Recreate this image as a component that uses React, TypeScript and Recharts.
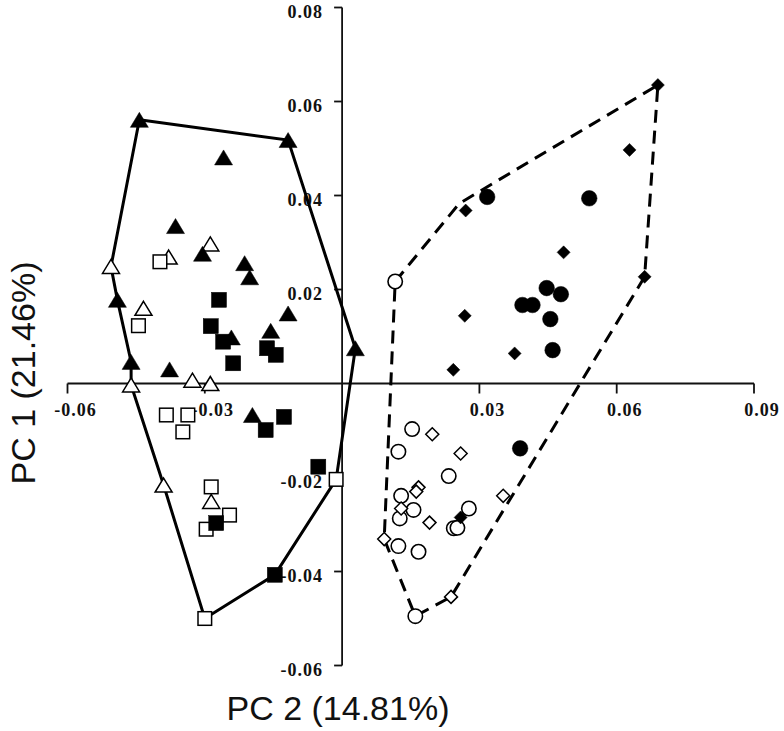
import React from 'react';
import { ScatterChart, Scatter, XAxis, YAxis, ReferenceLine, ReferenceDot } from 'recharts';

// ---- tick values / labels ----
const xTicks = [-0.06, -0.03, 0.03, 0.06, 0.09];
const xTickLabels = ['-0.06', '-0.03', '0.03', '0.06', '0.09'];
const yTicks = [0.08, 0.06, 0.04, 0.02, -0.02, -0.04, -0.06];
const yTickLabels = ['0.08', '0.06', '0.04', '0.02', '-0.02', '-0.04', '-0.06'];
const xTitle = 'PC 2 (14.81%)';
const yTitle = 'PC 1 (21.46%)';

// ---- series ----
const filledTriangles = [
  { x: -0.0443, y: 0.0561 }, { x: -0.0118, y: 0.0518 }, { x: -0.0259, y: 0.0481 },
  { x: -0.0364, y: 0.0335 }, { x: -0.0305, y: 0.0276 }, { x: -0.0213, y: 0.0256 },
  { x: -0.0202, y: 0.0226 }, { x: -0.0118, y: 0.0149 }, { x: -0.0156, y: 0.0112 },
  { x: -0.0242, y: 0.0098 }, { x: -0.0491, y: 0.0178 }, { x: -0.0461, y: 0.0046 },
  { x: -0.0377, y: 0.003 }, { x: 0.0029, y: 0.0075 }, { x: -0.0196, y: -0.0067 },
];
const openTriangles = [
  { x: -0.0505, y: 0.0249 }, { x: -0.0434, y: 0.016 }, { x: -0.0379, y: 0.0269 },
  { x: -0.0288, y: 0.0297 }, { x: -0.0327, y: 0.0007 }, { x: -0.0288, y: 0.0 },
  { x: -0.0461, y: -0.0003 }, { x: -0.039, y: -0.0216 }, { x: -0.0286, y: -0.0251 },
];
const openSquares = [
  { x: -0.0398, y: 0.0259 }, { x: -0.0445, y: 0.0123 }, { x: -0.0384, y: -0.0067 },
  { x: -0.0337, y: -0.0067 }, { x: -0.0348, y: -0.0103 }, { x: -0.0286, y: -0.022 },
  { x: -0.0246, y: -0.028 }, { x: -0.0297, y: -0.031 }, { x: -0.03, y: -0.05 },
  { x: -0.0013, y: -0.0204 },
];
const filledSquares = [
  { x: -0.0269, y: 0.0178 }, { x: -0.0287, y: 0.0122 }, { x: -0.026, y: 0.0089 },
  { x: -0.0238, y: 0.0043 }, { x: -0.0164, y: 0.0075 }, { x: -0.0145, y: 0.0061 },
  { x: -0.0167, y: -0.0099 }, { x: -0.0127, y: -0.0071 }, { x: -0.0052, y: -0.0177 },
  { x: -0.0275, y: -0.0297 }, { x: -0.0147, y: -0.0407 },
];
const filledDiamonds = [
  { x: 0.069, y: 0.0635 }, { x: 0.0628, y: 0.0497 }, { x: 0.027, y: 0.0368 },
  { x: 0.0484, y: 0.0279 }, { x: 0.0661, y: 0.0227 }, { x: 0.0268, y: 0.0144 },
  { x: 0.0377, y: 0.0064 }, { x: 0.0243, y: 0.0029 }, { x: 0.0259, y: -0.0285 },
];
const filledCircles = [
  { x: 0.0317, y: 0.0397 }, { x: 0.054, y: 0.0394 }, { x: 0.0447, y: 0.0203 },
  { x: 0.0478, y: 0.019 }, { x: 0.0394, y: 0.0167 }, { x: 0.0416, y: 0.0167 },
  { x: 0.0455, y: 0.0137 }, { x: 0.046, y: 0.0071 }, { x: 0.0389, y: -0.0138 },
];
const openCircles = [
  { x: 0.0116, y: 0.0217 }, { x: 0.0153, y: -0.0097 }, { x: 0.0123, y: -0.0145 },
  { x: 0.0233, y: -0.0197 }, { x: 0.0129, y: -0.0239 }, { x: 0.0156, y: -0.0269 },
  { x: 0.0126, y: -0.0287 }, { x: 0.0277, y: -0.0266 }, { x: 0.0244, y: -0.0308 },
  { x: 0.0252, y: -0.0307 }, { x: 0.0123, y: -0.0346 }, { x: 0.0167, y: -0.0358 },
  { x: 0.016, y: -0.0495 },
];
const openDiamonds = [
  { x: 0.0197, y: -0.0108 }, { x: 0.0259, y: -0.0149 }, { x: 0.0167, y: -0.0221 },
  { x: 0.0162, y: -0.023 }, { x: 0.0129, y: -0.0266 }, { x: 0.0191, y: -0.0296 },
  { x: 0.0352, y: -0.0239 }, { x: 0.0092, y: -0.0331 }, { x: 0.0238, y: -0.0454 },
];

// ---- convex hulls (closed) ----
const hullLeft = [
  { x: -0.0443, y: 0.0561 }, { x: -0.0118, y: 0.0518 }, { x: 0.0029, y: 0.0075 },
  { x: -0.0013, y: -0.0204 }, { x: -0.0147, y: -0.0407 }, { x: -0.03, y: -0.05 },
  { x: -0.039, y: -0.0216 }, { x: -0.0461, y: -0.0003 }, { x: -0.0461, y: 0.0046 },
  { x: -0.0491, y: 0.0178 }, { x: -0.0505, y: 0.0249 }, { x: -0.0443, y: 0.0561 },
];
const hullRight = [
  { x: 0.0116, y: 0.0217 }, { x: 0.0256, y: 0.0383 }, { x: 0.069, y: 0.0635 },
  { x: 0.0661, y: 0.0227 }, { x: 0.0238, y: -0.0454 }, { x: 0.016, y: -0.0495 },
  { x: 0.0092, y: -0.0331 }, { x: 0.0116, y: 0.0217 },
];

const INK = '#000';
const AXIS = '#111';
const tickFont = '"Liberation Serif", "Times New Roman", serif';
const titleFont = '"Liberation Sans", Arial, sans-serif';

const triangle = (filled: boolean) => (p: any) => {
  const { cx, cy } = p;
  const w = filled ? 9 : 8.5;
  const h = filled ? 7.5 : 7;
  return (
    <path
      d={`M${cx},${cy - h} L${cx + w},${cy + h} L${cx - w},${cy + h} Z`}
      fill={filled ? INK : '#fff'}
      stroke={INK}
      strokeWidth={filled ? 0.5 : 1.5}
      strokeLinejoin="miter"
    />
  );
};
const square = (filled: boolean) => (p: any) => {
  const { cx, cy } = p;
  const s = filled ? 7.5 : 6.8;
  return (
    <rect x={cx - s} y={cy - s} width={2 * s} height={2 * s}
      fill={filled ? INK : '#fff'} stroke={INK} strokeWidth={filled ? 0.5 : 1.5} />
  );
};
const diamond = (filled: boolean) => (p: any) => {
  const { cx, cy } = p;
  const s = 6.5;
  return (
    <path d={`M${cx},${cy - s} L${cx + s},${cy} L${cx},${cy + s} L${cx - s},${cy} Z`}
      fill={filled ? INK : '#fff'} stroke={INK} strokeWidth={filled ? 0.5 : 1.5} />
  );
};
const circle = (filled: boolean) => (p: any) => {
  const { cx, cy } = p;
  return (
    <circle cx={cx} cy={cy} r={filled ? 7.8 : 7.2}
      fill={filled ? INK : '#fff'} stroke={INK} strokeWidth={filled ? 0.5 : 1.6} />
  );
};
const noDot = () => <g />;

const xTickShape = (label: string) => (p: any) => (
  <g>
    <line x1={p.cx} y1={p.cy} x2={p.cx} y2={p.cy + 10} stroke={AXIS} strokeWidth={1.8} />
    <text x={p.cx + 8} y={p.cy + 32} textAnchor="middle" fontFamily={tickFont}
      fontWeight="bold" fontSize={18} letterSpacing={1} fill="#111">{label}</text>
  </g>
);
const yTickShape = (label: string) => (p: any) => (
  <g>
    <line x1={p.cx} y1={p.cy} x2={p.cx - 8} y2={p.cy} stroke={AXIS} strokeWidth={1.8} />
    <text x={p.cx - 19} y={p.cy + 10} textAnchor="end" fontFamily={tickFont}
      fontWeight="bold" fontSize={18} letterSpacing={1} fill="#111">{label}</text>
  </g>
);

export default function App() {
  return (
    <div style={{ position: 'absolute', left: 0, top: 0, width: 784, height: 731, background: '#fff' }}>
      <ScatterChart width={784} height={731} margin={{ top: 7.5, right: 30, bottom: 65.5, left: 67.5 }}>
        <XAxis type="number" dataKey="x" domain={[-0.06, 0.09]} allowDataOverflow hide />
        <YAxis type="number" dataKey="y" domain={[-0.06, 0.08]} allowDataOverflow hide />
        <ReferenceLine y={0} stroke={AXIS} strokeWidth={1.8} />
        <ReferenceLine x={0} stroke={AXIS} strokeWidth={1.8} />
        {xTicks.map((t, i) => (
          <ReferenceDot key={'xt' + i} x={t} y={0} r={0} ifOverflow="visible" shape={xTickShape(xTickLabels[i])} />
        ))}
        {yTicks.map((t, i) => (
          <ReferenceDot key={'yt' + i} x={0} y={t} r={0} ifOverflow="visible" shape={yTickShape(yTickLabels[i])} />
        ))}
        <Scatter data={hullLeft} fill={INK} shape={noDot} isAnimationActive={false}
          line={{ stroke: INK, strokeWidth: 3 }} lineType="joint" />
        <Scatter data={hullRight} fill={INK} shape={noDot} isAnimationActive={false}
          line={{ stroke: INK, strokeWidth: 3, strokeDasharray: '13 8' }} lineType="joint" />
        <Scatter data={openTriangles} shape={triangle(false)} isAnimationActive={false} />
        <Scatter data={openSquares} shape={square(false)} isAnimationActive={false} />
        <Scatter data={filledTriangles} shape={triangle(true)} isAnimationActive={false} />
        <Scatter data={filledSquares} shape={square(true)} isAnimationActive={false} />
        <Scatter data={openCircles} shape={circle(false)} isAnimationActive={false} />
        <Scatter data={openDiamonds} shape={diamond(false)} isAnimationActive={false} />
        <Scatter data={filledDiamonds} shape={diamond(true)} isAnimationActive={false} />
        <Scatter data={filledCircles} shape={circle(true)} isAnimationActive={false} />
      </ScatterChart>
      <svg width={784} height={731} style={{ position: 'absolute', left: 0, top: 0, pointerEvents: 'none' }}>
        <text x={338} y={720} textAnchor="middle" fontFamily={titleFont} fontSize={34} fill="#111">{xTitle}</text>
        <text x={35} y={373} textAnchor="middle" fontFamily={titleFont} fontSize={34} fill="#111"
          transform="rotate(-90, 35, 373)">{yTitle}</text>
      </svg>
    </div>
  );
}
